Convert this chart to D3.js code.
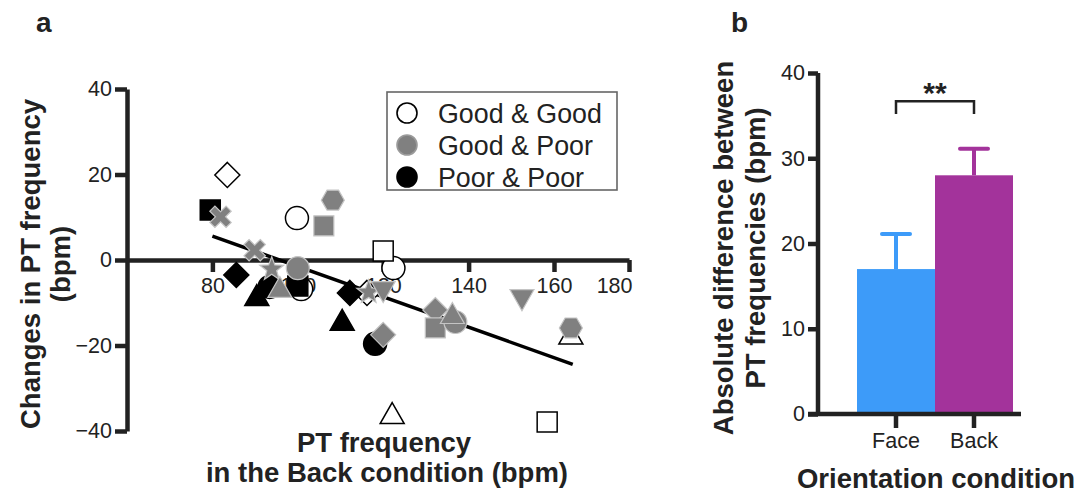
<!DOCTYPE html>
<html>
<head>
<meta charset="utf-8">
<script src="https://cdn.jsdelivr.net/npm/d3@7"></script>
<style>
  body { margin: 0; background: #fff; }
  text { font-family: "Liberation Sans", Arial, Helvetica, sans-serif; fill: #222; }
</style>
</head>
<body>
<div class="svgContainer"></div>
<script>
// ---- data ----
const xTicks = [80, 100, 120, 140, 160, 180];
const yTicks = [-40, -20, 0, 20, 40];
const groups = ["Good & Good", "Good & Poor", "Poor & Poor"];

// [PT frequency in Back, change, marker shape]
const goodGood = [
    [83.5, 19.9, "diamond"],
    [99.8, 9.8, "circle"],
    [100.8, -6.8, "circle"],
    [122.4, -1.9, "circle"],
    [120.0, 2.1, "square"],
    [116.2, -7.7, "diamond"],
    [122.1, -35.8, "triangle"],
    [158.4, -37.9, "square"],
    [164.5, -17.2, "triangle"]
];
const poorPoor = [
    [79.5, 11.7, "square"],
    [85.6, -3.5, "diamond"],
    [90.4, -8.2, "triangle"],
    [93.4, -6.3, "circle"],
    [100.0, -6.1, "square"],
    [112.2, -7.7, "diamond"],
    [110.4, -14.0, "triangle"],
    [118.1, -19.6, "circle"]
];
const goodPoor = [
    [81.9, 10.1, "cross"],
    [108.2, 14.0, "hexagon"],
    [106.1, 8.0, "square"],
    [89.9, 2.3, "cross"],
    [93.9, -1.9, "star"],
    [100.0, -1.9, "circle"],
    [95.8, -6.3, "triangle"],
    [116.6, -7.3, "star"],
    [120.0, -7.5, "triangleDown"],
    [120.0, -17.5, "diamond"],
    [132.2, -11.7, "diamond"],
    [132.2, -15.9, "square"],
    [136.9, -14.5, "circle"],
    [136.2, -12.4, "triangle"],
    [152.5, -9.4, "triangleDown"],
    [164.5, -15.9, "hexagon"]
];
const fitX = [80, 165];
const fitY = [5.6, -24.4];

const conditions = ["Face", "Back"];
const meanDiff = [17, 28];
const semDiff = [4.1, 3.1];
const barTicks = [0, 10, 20, 30, 40];

const groupFill = ["#ffffff", "#808080", "#000000"];
const groupStroke = ["#000000", "#c4c4c4", "#000000"];
const barColors = ["#3d9bf9", "#a3339b"];

// ---- page ----
const width = 1088, height = 494;
const svg = d3.select(".svgContainer").append("svg")
    .attr("width", width).attr("height", height)
    .attr("viewBox", `0 0 ${width} ${height}`);

const axisColor = "#222";

function shapePath(name) {
    const p = d3.path();
    if (name === "circle") {
        p.arc(0, 0, 11.5, 0, 2 * Math.PI);
    } else if (name === "square") {
        p.rect(-10, -10, 20, 20);
    } else if (name === "diamond") {
        p.moveTo(0, -12.5); p.lineTo(12.5, 0); p.lineTo(0, 12.5); p.lineTo(-12.5, 0); p.closePath();
    } else if (name === "triangle") {
        p.moveTo(0, -10.5); p.lineTo(12, 10.5); p.lineTo(-12, 10.5); p.closePath();
    } else if (name === "triangleDown") {
        p.moveTo(0, 10.5); p.lineTo(12, -10.5); p.lineTo(-12, -10.5); p.closePath();
    } else if (name === "hexagon") {
        for (let i = 0; i < 6; i++) {
            const a = i * Math.PI / 3;
            const px = 11.5 * Math.cos(a), py = 11.5 * Math.sin(a);
            i ? p.lineTo(px, py) : p.moveTo(px, py);
        }
        p.closePath();
    } else if (name === "star") {
        for (let i = 0; i < 10; i++) {
            const r = i % 2 ? 5.2 : 12.5;
            const a = -Math.PI / 2 + i * Math.PI / 5;
            const px = r * Math.cos(a), py = r * Math.sin(a) + 1;
            i ? p.lineTo(px, py) : p.moveTo(px, py);
        }
        p.closePath();
    } else if (name === "cross") {
        const L = 11.5, t = 3.6;
        const pts = [[-t, -L], [t, -L], [t, -t], [L, -t], [L, t], [t, t], [t, L], [-t, L], [-t, t], [-L, t], [-L, -t], [-t, -t]];
        const c = Math.SQRT1_2;
        pts.forEach((q, i) => {
            const px = q[0] * c - q[1] * c, py = q[0] * c + q[1] * c;
            i ? p.lineTo(px, py) : p.moveTo(px, py);
        });
        p.closePath();
    }
    return p.toString();
}

// ================= panel a =================
const x = d3.scaleLinear().domain([60, 160, 180]).range([127, 554, 629]);
const y = d3.scaleLinear().domain([-40, 40]).range([431, 89]);

svg.append("text").attr("x", 36).attr("y", 32)
    .style("font-size", "28px").style("font-weight", "bold").text("a");

const yAxisA = svg.append("g")
    .attr("transform", `translate(${x(60)},0)`)
    .call(d3.axisLeft(y).tickValues(yTicks).tickSize(12).tickSizeOuter(0).tickPadding(3)
        .tickFormat(d3.format("d")));

const xAxisA = svg.append("g")
    .attr("transform", `translate(0,${y(0)})`)
    .call(d3.axisBottom(x).tickValues(xTicks).tickSize(12).tickSizeOuter(0).tickPadding(6));

xAxisA.selectAll(".tick text").filter(d => d === 180).attr("text-anchor", "end").attr("dx", "3");

[yAxisA, xAxisA].forEach(g => {
    g.select(".domain").attr("stroke", axisColor).attr("stroke-width", 4.5);
    g.selectAll(".tick line").attr("stroke", axisColor).attr("stroke-width", 4.5);
    g.selectAll(".tick text").style("font-size", "21.5px").attr("fill", "#222")
        .style("font-family", '"Liberation Sans", Arial, sans-serif');
});

// axis titles
const yTitleA = svg.append("text")
    .attr("transform", `translate(40,264) rotate(-90)`)
    .attr("text-anchor", "middle")
    .style("font-size", "27.5px").style("font-weight", "bold");
yTitleA.append("tspan").attr("x", 0).attr("dy", 0).text("Changes in PT frequency");
yTitleA.append("tspan").attr("x", 0).attr("dy", 30).text("(bpm)");

const xTitleA = svg.append("text")
    .attr("text-anchor", "middle")
    .style("font-size", "27.5px").style("font-weight", "bold");
xTitleA.append("tspan").attr("x", 384).attr("y", 452).text("PT frequency");
xTitleA.append("tspan").attr("x", 387).attr("y", 482).text("in the Back condition (bpm)");

// regression line
svg.append("line")
    .attr("x1", x(fitX[0])).attr("y1", y(fitY[0]))
    .attr("x2", x(fitX[1])).attr("y2", y(fitY[1]))
    .attr("stroke", "#000").attr("stroke-width", 3.5);

// points
const series = [goodGood, poorPoor, goodPoor];
const seriesGroup = [0, 2, 1];
series.forEach((pts, si) => {
    const gi = seriesGroup[si];
    svg.append("g").selectAll("path")
        .data(pts)
        .enter().append("path")
        .attr("transform", d => `translate(${x(d[0])},${y(d[1])})`)
        .attr("d", d => shapePath(d[2]))
        .attr("fill", groupFill[gi])
        .attr("stroke", groupStroke[gi])
        .attr("stroke-width", gi === 1 ? 1.2 : 1.5);
});

// legend
const legend = svg.append("g");
legend.append("rect")
    .attr("x", 387).attr("y", 92).attr("width", 230).attr("height", 98)
    .attr("fill", "#fff").attr("stroke", "#666").attr("stroke-width", 1.6);
const legendRow = d3.scalePoint().domain(groups).range([113, 177]);
groups.forEach((gname, i) => {
    legend.append("circle")
        .attr("cx", 407).attr("cy", legendRow(gname)).attr("r", 10)
        .attr("fill", groupFill[i]).attr("stroke", groupStroke[i] === "#c4c4c4" ? "#9a9a9a" : groupStroke[i])
        .attr("stroke-width", 1.6);
    legend.append("text")
        .attr("x", 438).attr("y", legendRow(gname) + 9.5)
        .style("font-size", "26.8px").text(gname);
});

// ================= panel b =================
const xb = d3.scaleBand().domain(conditions).range([857, 1013]).padding(0);
const yb = d3.scaleLinear().domain([0, 40]).range([414, 73]);

svg.append("text").attr("x", 731).attr("y", 32)
    .style("font-size", "28px").style("font-weight", "bold").text("b");

// bars
svg.append("g").selectAll("rect")
    .data(conditions)
    .enter().append("rect")
    .attr("x", d => xb(d))
    .attr("y", (d, i) => yb(meanDiff[i]))
    .attr("width", xb.bandwidth())
    .attr("height", (d, i) => yb(0) - yb(meanDiff[i]))
    .attr("fill", (d, i) => barColors[i]);

// error bars (upper only)
const err = svg.append("g");
conditions.forEach((c, i) => {
    const cx = xb(c) + xb.bandwidth() / 2;
    err.append("line")
        .attr("x1", cx).attr("x2", cx)
        .attr("y1", yb(meanDiff[i])).attr("y2", yb(meanDiff[i] + semDiff[i]))
        .attr("stroke", barColors[i]).attr("stroke-width", 4);
    err.append("line")
        .attr("x1", cx - 14).attr("x2", cx + 14)
        .attr("y1", yb(meanDiff[i] + semDiff[i])).attr("y2", yb(meanDiff[i] + semDiff[i]))
        .attr("stroke", barColors[i]).attr("stroke-width", 4).attr("stroke-linecap", "round");
});

const yAxisB = svg.append("g")
    .attr("transform", "translate(818,0)")
    .call(d3.axisLeft(yb).tickValues(barTicks).tickSize(10).tickSizeOuter(0).tickPadding(3));
const xAxisB = svg.append("g")
    .attr("transform", `translate(0,${yb(0)})`)
    .call(d3.axisBottom(xb).tickSize(14).tickSizeOuter(0).tickPadding(5));
xAxisB.select(".domain").attr("d", "M808,0H1021");

[yAxisB, xAxisB].forEach(g => {
    g.select(".domain").attr("stroke", axisColor).attr("stroke-width", 4.5);
    g.selectAll(".tick line").attr("stroke", axisColor).attr("stroke-width", 4.5);
    g.selectAll(".tick text").style("font-size", "21.5px").attr("fill", "#222")
        .style("font-family", '"Liberation Sans", Arial, sans-serif');
});
yAxisB.select(".domain").attr("d", "M0,73V416");

// significance bracket
const bx1 = xb("Face") + xb.bandwidth() / 2, bx2 = xb("Back") + xb.bandwidth() / 2;
svg.append("path")
    .attr("d", `M${bx1},${yb(35.2)}V${yb(36.7)}H${bx2}V${yb(35.2)}`)
    .attr("fill", "none").attr("stroke", "#222").attr("stroke-width", 2.5);
svg.append("text")
    .attr("x", (bx1 + bx2) / 2).attr("y", 103)
    .attr("text-anchor", "middle")
    .style("font-size", "30px").style("font-weight", "bold").text("**");

const yTitleB = svg.append("text")
    .attr("transform", "translate(733,248) rotate(-90)")
    .attr("text-anchor", "middle")
    .style("font-size", "27.5px").style("font-weight", "bold");
yTitleB.append("tspan").attr("x", 0).attr("dy", 0).text("Absolute difference between");
yTitleB.append("tspan").attr("x", 0).attr("dy", 32).text("PT frequencies (bpm)");

svg.append("text")
    .attr("x", 936).attr("y", 488)
    .attr("text-anchor", "middle")
    .style("font-size", "27.5px").style("font-weight", "bold")
    .text("Orientation condition");
</script>
</body>
</html>
